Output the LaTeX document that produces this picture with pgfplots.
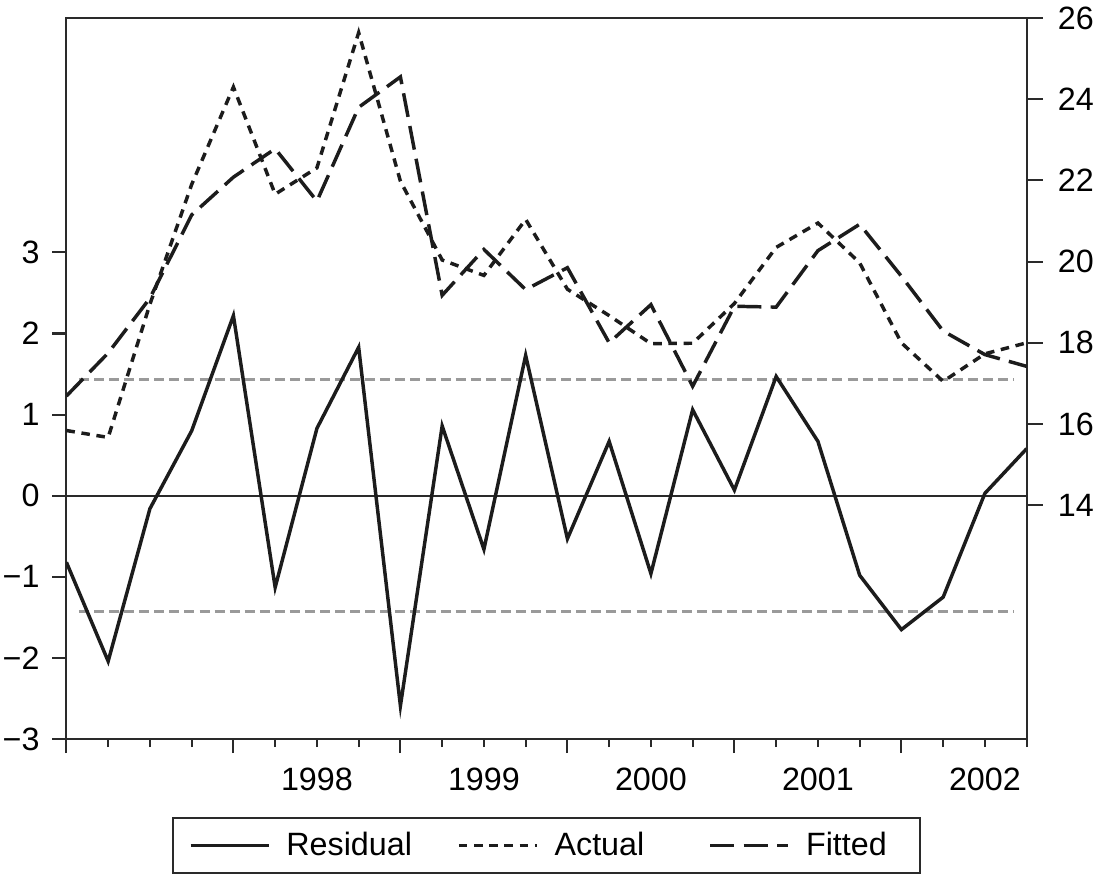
\documentclass[border=0pt]{standalone}
\usepackage{pgfplots}
\pgfplotsset{compat=1.18}
\usepackage{pgfplotstable}
\usepackage{fontspec}
\setmainfont{Liberation Sans}

\definecolor{ink}{HTML}{1C1C1C}
\definecolor{frame}{HTML}{2A2A2A}
\definecolor{band}{HTML}{9A9A9A}

\pgfplotstableread{
x res act fit
0 -0.82 15.84 16.69
1 -2.04 15.67 17.75
2 -0.16 18.95 19.10
3 0.80 21.90 21.15
4 2.22 24.30 22.08
5 -1.13 21.66 22.78
6 0.83 22.31 21.49
7 1.83 25.64 23.80
8 -2.59 21.98 24.55
9 0.86 20.04 19.17
10 -0.66 19.66 20.30
11 1.73 21.04 19.31
12 -0.53 19.32 19.85
13 0.67 18.67 18.00
14 -0.96 17.98 18.94
15 1.06 17.99 16.93
16 0.07 18.97 18.90
17 1.47 20.35 18.88
18 0.67 20.95 20.27
19 -0.98 19.97 20.92
20 -1.65 18.00 19.64
21 -1.25 17.05 18.29
22 0.03 17.73 17.71
23 0.58 18.00 17.42
}\data

\begin{document}
\begin{tikzpicture}
\path[use as bounding box] (-24.9pt,-51pt) rectangle (386pt,277.1pt);
\pgfplotsset{every axis/.append style={font=\fontsize{12.1}{14.5}\selectfont}}
\begin{axis}[
  name=A,
  at={(0pt,0pt)}, anchor=south west,
  width=360pt, height=270.5pt, scale only axis,
  xmin=0, xmax=23, ymin=-3.0, ymax=5.894,
  axis line style={line width=0.8pt, color=frame},
  xtick={0,4,8,12,16,20}, xticklabels={},
  minor xtick={1,2,3,5,6,7,9,10,11,13,14,15,17,18,19,21,22,23},
  extra x ticks={6,10,14,18,22},
  extra x tick labels={1998,1999,2000,2001,2002},
  extra x tick style={tick style={draw=none}, tick label style={yshift=-2pt}},
  ytick={-3,-2,-1,0,1,2,3},
  yticklabels={−3,−2,−1,0,1,2,3},
  yticklabel style={xshift=-1.3pt},
  xtick pos=bottom, ytick pos=left,
  tick align=outside,
  major tick length=5.25pt, minor tick length=3pt,
  tick style={line width=0.8pt, color=frame},
  line join=miter,
]
\addplot[band, line width=1pt, dash pattern=on 3.75pt off 1.9pt] coordinates {(0.3,1.43) (22.7,1.43)};
\addplot[band, line width=1pt, dash pattern=on 3.75pt off 1.9pt] coordinates {(0.3,-1.43) (22.7,-1.43)};
\addplot[frame, line width=0.75pt] coordinates {(0,0) (23,0)};
\addplot[ink, line width=1.3pt, miter limit=20] table[x=x,y=res]{\data};
\end{axis}
\begin{axis}[
  at={(0pt,0pt)}, anchor=south west,
  width=360pt, height=270.5pt, scale only axis,
  xmin=0, xmax=23, ymin=8.24, ymax=26.01,
  axis x line=none, axis y line*=right,
  axis line style={line width=0.8pt, color=frame},
  ytick={14,16,18,20,22,24,26},
  yticklabels={14,16,18,20,22,24,26},
  yticklabel style={xshift=2.2pt},
  tick align=outside, major tick length=6pt,
  tick style={line width=0.8pt, color=frame},
  legend columns=3,
  legend style={at={(0.5,-0.108)}, anchor=north, draw=frame, line width=0.8pt,
    inner xsep=6pt, inner ysep=3.2pt,
    /tikz/every odd column/.append style={column sep=4pt},
    /tikz/column 2/.append style={column sep=14.9pt},
    /tikz/column 4/.append style={column sep=22.1pt}},
  legend image code/.code={\draw[#1] (0pt,0pt) -- (29.25pt,0pt);},
]
\addlegendimage{ink, line width=1.3pt}
\addlegendentry{Residual}
\addplot[ink, line width=1.3pt, dash pattern=on 3.2pt off 2.5pt] table[x=x,y=act]{\data};
\addlegendentry{Actual}
\addplot[ink, line width=1.3pt, dash pattern=on 9pt off 3.5pt] table[x=x,y=fit]{\data};
\addlegendentry{Fitted\hspace*{4.5pt}}
\end{axis}
\end{tikzpicture}
\end{document}
